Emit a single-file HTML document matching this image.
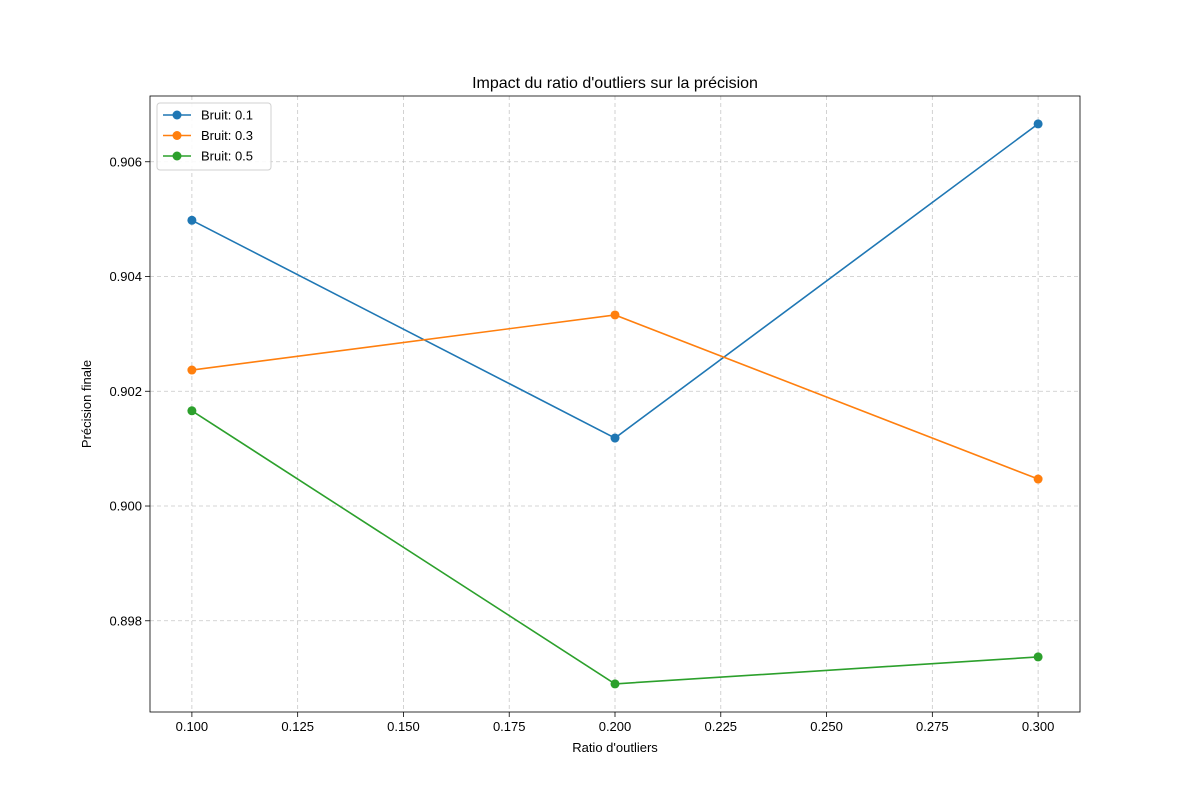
<!DOCTYPE html>
<html><head><meta charset="utf-8"><style>
body{margin:0;background:#fff}
svg{display:block;font-family:"Liberation Sans","DejaVu Sans",sans-serif}
</style></head><body>
<svg id="chart" width="1200" height="800"></svg>
<script>
const categories=[0.1,0.2,0.3];
const seriesNames=["Bruit: 0.1","Bruit: 0.3","Bruit: 0.5"];
const bruit01=[0.90498,0.901185,0.90666];
const bruit03=[0.90237,0.90333,0.90047];
const bruit05=[0.90166,0.8969,0.89737];
const xTicks=[0.1,0.125,0.15,0.175,0.2,0.225,0.25,0.275,0.3];
const yTicks=[0.898,0.9,0.902,0.904,0.906];
const colors=["#1f77b4","#ff7f0e","#2ca02c"];
const L=150,R=1080,T=96,B=712;
const xMin=0.0901,xMax=0.3099,yMin=0.89641,yMax=0.907146;
const sx=v=>L+(v-xMin)/(xMax-xMin)*(R-L);
const sy=v=>B-(v-yMin)/(yMax-yMin)*(B-T);
const svg=document.getElementById('chart');
const NS="http://www.w3.org/2000/svg";
function mk(tag,attrs,parent){const e=document.createElementNS(NS,tag);for(const k in attrs)e.setAttribute(k,attrs[k]);(parent||svg).appendChild(e);return e;}
const grid=mk('g',{});


xTicks.forEach(t=>{const x=sx(t);
 mk('line',{x1:x,x2:x,y1:T,y2:B,stroke:'#b0b0b0','stroke-width':0.8,'stroke-dasharray':'4,3',opacity:0.7},grid);
 mk('line',{x1:x,x2:x,y1:B,y2:B+5,stroke:'#000','stroke-width':0.8});
 const tx=mk('text',{x:x,y:B+19,'text-anchor':'middle','font-size':13});tx.textContent=t.toFixed(3);
 
 
});
yTicks.forEach(t=>{const y=sy(t);
 mk('line',{x1:L,x2:R,y1:y,y2:y,stroke:'#b0b0b0','stroke-width':0.8,'stroke-dasharray':'4,3',opacity:0.7},grid);
 mk('line',{x1:L-5,x2:L,y1:y,y2:y,stroke:'#000','stroke-width':0.8});
 const tx=mk('text',{x:L-8,y:y+4.5,'text-anchor':'end','font-size':13});tx.textContent=t.toFixed(3);
 
 
});
[bruit01,bruit03,bruit05].forEach((vals,i)=>{
 const g=mk('g',{});
 
 
 mk('polyline',{points:vals.map((v,j)=>sx(categories[j])+','+sy(v)).join(' '),fill:'none',stroke:colors[i],'stroke-width':1.6},g);
 vals.forEach((v,j)=>{const c=mk('circle',{cx:sx(categories[j]),cy:sy(v),r:4.5,fill:colors[i]},g);
  
  });
});
const frame=mk('rect',{x:L,y:T,width:R-L,height:B-T,fill:'none',stroke:'#000','stroke-width':0.8});


const title=mk('text',{x:(L+R)/2,y:88,'text-anchor':'middle','font-size':16});title.textContent="Impact du ratio d'outliers sur la précision";


const xl=mk('text',{x:(L+R)/2,y:752,'text-anchor':'middle','font-size':13});xl.textContent="Ratio d'outliers";


const yl=mk('text',{x:91,y:(T+B)/2,'text-anchor':'middle','font-size':13,transform:`rotate(-90 91 ${(T+B)/2})`});yl.textContent="Précision finale";


const lg=mk('g',{});


mk('rect',{x:157,y:103,width:114,height:67,rx:3,fill:'#fff',stroke:'#ccc','stroke-width':1,opacity:0.9},lg);
seriesNames.forEach((n,i)=>{const y=115+i*20.5;
 const e=mk('g',{},lg);
 
 
 mk('line',{x1:163,x2:191,y1:y,y2:y,stroke:colors[i],'stroke-width':1.6},e);
 mk('circle',{cx:177,cy:y,r:4.5,fill:colors[i]},e);
 const t=mk('text',{x:201,y:y+4.5,'font-size':13},e);t.textContent=n;
});
</script>
</body></html>
